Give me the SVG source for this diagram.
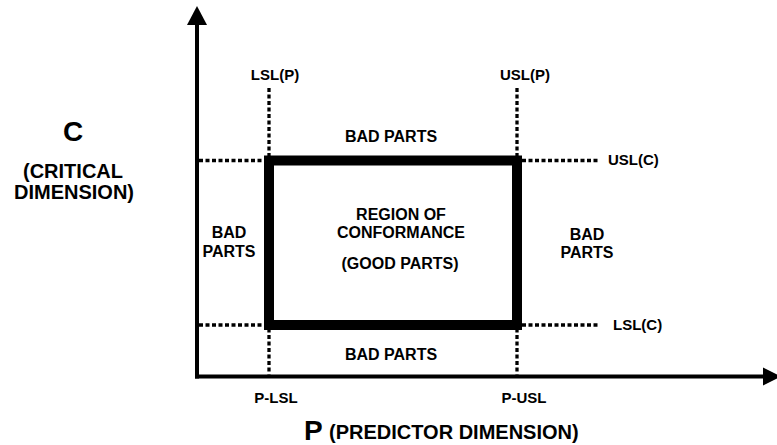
<svg xmlns="http://www.w3.org/2000/svg" width="777" height="445" viewBox="0 0 777 445">
  <style>
    text { font-family: "Liberation Sans", Arial, Helvetica, sans-serif; font-weight: bold; fill: #000; }
    .big { font-size: 28px; }
    .dim { font-size: 20px; }
    .main { font-size: 16px; text-anchor: middle; }
    .lim { font-size: 15px; }
    .mid { text-anchor: middle; }
    .axis { stroke: #000; stroke-width: 4; fill: none; }
    .limit { stroke: #000; stroke-width: 3.3; stroke-dasharray: 4 2.5; fill: none; }
    .zone { stroke: #000; stroke-width: 10; fill: none; stroke-linejoin: miter; }
  </style>

  <rect width="777" height="445" fill="#fff"/>

  <!-- axes and specification limit lines -->
  <g id="connectors">
    <line class="axis" x1="197" y1="378.5" x2="197" y2="22"/>
    <polygon points="197,6 187,25 207,25" fill="#000"/>
    <line class="axis" x1="195" y1="376.5" x2="766" y2="376.5"/>
    <polygon points="781,376.5 763,367.5 763,385.5" fill="#000"/>

    <line class="limit" x1="269" y1="88" x2="269" y2="374.5"/>
    <line class="limit" x1="517" y1="88" x2="517" y2="374.5"/>
    <line class="limit" x1="199" y1="160.5" x2="264" y2="160.5"/>
    <line class="limit" x1="522" y1="160.5" x2="598" y2="160.5"/>
    <line class="limit" x1="199" y1="325" x2="264" y2="325"/>
    <line class="limit" x1="522" y1="325" x2="598" y2="325"/>
  </g>

  <!-- region of conformance -->
  <g id="conformance">
    <rect class="zone" x="269" y="160.5" width="248" height="164.5"/>
    <text class="main" x="401" y="220">REGION OF</text>
    <text class="main" x="401" y="238">CONFORMANCE</text>
    <text class="main" x="400" y="269">(GOOD PARTS)</text>
  </g>

  <g id="bad-top"><text class="main" x="391" y="142">BAD PARTS</text></g>
  <g id="bad-bottom"><text class="main" x="391" y="360">BAD PARTS</text></g>
  <g id="bad-left">
    <text class="main" x="229" y="238">BAD</text>
    <text class="main" x="229" y="257">PARTS</text>
  </g>
  <g id="bad-right">
    <text class="main" x="587" y="240">BAD</text>
    <text class="main" x="587" y="258">PARTS</text>
  </g>

  <!-- limit labels -->
  <g id="lsl-p"><text class="lim mid" x="275" y="80">LSL(P)</text></g>
  <g id="usl-p"><text class="lim mid" x="525" y="80">USL(P)</text></g>
  <g id="usl-c"><text class="lim" x="608" y="165">USL(C)</text></g>
  <g id="lsl-c"><text class="lim" x="613" y="330">LSL(C)</text></g>
  <g id="p-lsl"><text class="lim mid" x="276" y="403">P-LSL</text></g>
  <g id="p-usl"><text class="lim mid" x="524" y="403">P-USL</text></g>

  <!-- axis titles -->
  <g id="axis-c">
    <text class="big mid" x="73" y="141">C</text>
    <text class="dim mid" x="73" y="178">(CRITICAL</text>
    <text class="dim mid" x="74" y="199">DIMENSION)</text>
  </g>
  <g id="axis-p">
    <text class="big" x="304" y="440">P</text>
    <text class="dim" x="329" y="439">(PREDICTOR DIMENSION)</text>
  </g>
</svg>
